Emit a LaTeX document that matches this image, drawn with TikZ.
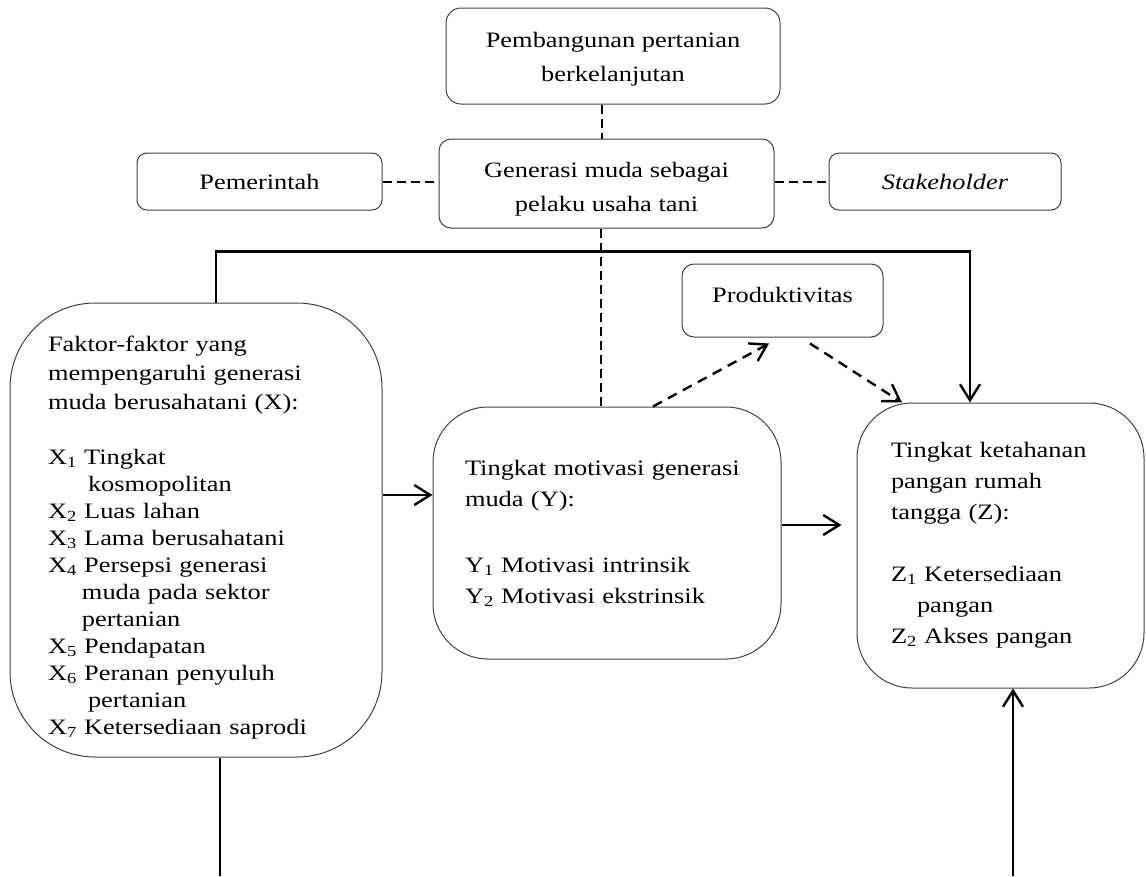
\documentclass[tikz,border=0pt]{standalone}
\usepackage{fontspec}
\setmainfont{Liberation Serif}[FakeStretch=1.2]
\usetikzlibrary{arrows.meta}
\tikzset{
	box/.style={draw=black!75,line width=1pt,rounded corners=12pt,inner sep=0pt,align=center,font=\fontsize{22}{34}\selectfont},
	bigbox/.style={box,align=left,font=\fontsize{22}{#1}\selectfont},
	conn/.style={line width=2.4pt},
	dline/.style={line width=2pt,dash pattern=on 9pt off 5pt},
	darrow/.style={line width=2.4pt,dash pattern=on 10pt off 7pt,->}
}

\begin{document}
\begin{tikzpicture}[x=1pt,y=-1pt,>={Straight Barb[length=16pt,width=20pt]}]
	\useasboundingbox (0,0) rectangle (1146,876);
	\node[box,minimum width=334pt,minimum height=96pt,rounded corners=15pt] (top) at (613,56) {\rule{0pt}{22pt}Pembangunan pertanian\\berkelanjutan};
	\node[box,minimum width=335pt,minimum height=89pt] (gen) at (606.5,183.5) {\rule{0pt}{26pt}Generasi muda sebagai\\pelaku usaha tani};
	\node[box,minimum width=245pt,minimum height=57pt,rounded corners=10pt] (pem) at (259.5,181.5) {Pemerintah};
	\node[box,minimum width=232pt,minimum height=57pt,rounded corners=10pt] (stake) at (945,181.5) {\textit{Stakeholder}};
	\node[box,minimum width=201pt,minimum height=73pt,text depth=12pt] (prod) at (782.5,300.5) {Produktivitas};
	\node[bigbox=27,text width=296pt,minimum width=372pt,minimum height=454pt,rounded corners=85pt] (fx) at (196,530) {\rule{0pt}{30pt}Faktor-faktor yang\\[2pt] mempengaruhi generasi\\[2pt] muda berusahatani (X):\\[28pt] X\textsubscript{1} Tingkat\\ \hspace*{40pt}kosmopolitan\\ X\textsubscript{2} Luas lahan\\ X\textsubscript{3} Lama berusahatani\\ X\textsubscript{4} Persepsi generasi\\ \hspace*{34pt}muda pada sektor\\ \hspace*{34pt}pertanian\\ X\textsubscript{5} Pendapatan\\ X\textsubscript{6} Peranan penyuluh\\ \hspace*{40pt}pertanian\\ X\textsubscript{7} Ketersediaan saprodi};
	\node[bigbox=31,text width=284pt,minimum width=348pt,minimum height=252pt,rounded corners=55pt] (fy) at (607,533) {Tingkat motivasi generasi\\ muda (Y):\\[35pt] Y\textsubscript{1} Motivasi intrinsik\\ Y\textsubscript{2} Motivasi ekstrinsik};
	\node[bigbox=31,text width=219pt,minimum width=287pt,minimum height=285pt,rounded corners=55pt] (fz) at (1000.5,545.5) {Tingkat ketahanan\\ pangan rumah\\ tangga (Z):\\[31pt] Z\textsubscript{1} Ketersediaan\\ \hspace*{26pt}pangan\\ Z\textsubscript{2} Akses pangan};
	\draw[dline] ([xshift=-11pt]top.south) -- ([xshift=-4.5pt]gen.north);
	\draw[dline] ([xshift=-6pt]gen.south) -- ([xshift=-6.5pt]fy.north);
	\draw[dline] (pem.east) -- (pem.east -| gen.west);
	\draw[dline] (gen.east |- stake.west) -- (stake.west);
	\draw[conn,->] ([xshift=20pt]fx.north) -- ++(0,-51) -| ([xshift=-30.5pt]fz.north);
	\coordinate (xy) at ([yshift=35pt]fx.east);
	\draw[conn,->] (xy) -- (xy -| fy.west);
	\draw[conn,->] ([yshift=8pt]fy.east) -- ++(60,0);
	\draw[darrow] ([xshift=46pt]fy.north) -- ([shift={(-13.5,6)}]prod.south);
	\draw[darrow] ([shift={(27.5,6)}]prod.south) -- ([xshift=-98.5pt]fz.north);
	\coordinate (xend) at (220,876);
	\coordinate (zbeg) at (1013,876);
	\draw[conn] ([xshift=24pt]fx.south) -- (xend);
	\draw[conn,->] (zbeg) -- (zbeg |- fz.south);
\end{tikzpicture}
\end{document}
